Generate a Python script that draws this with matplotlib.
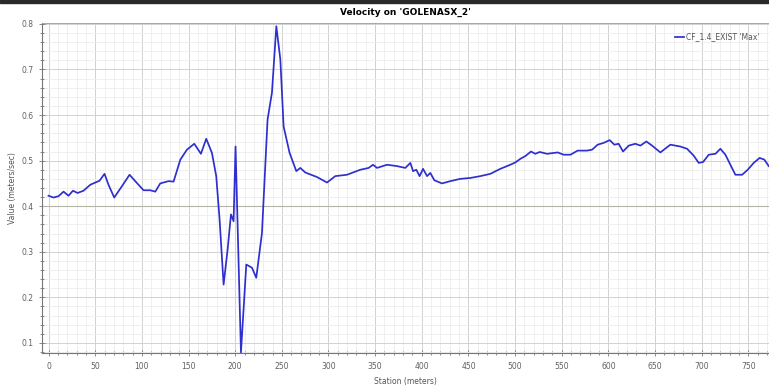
import matplotlib.pyplot as plt
from matplotlib.ticker import MultipleLocator
from matplotlib.patches import Rectangle

# profil de vitesse le long du tronçon
station = [0, 5.4, 10.7, 16.1, 21.4, 26.2, 31.1, 37.5, 44.7, 54.7,
           60.0, 64.3, 70.4, 78.7, 86.8, 94.7, 101.8, 109, 114.4, 119.7,
           128.6, 134, 141.2, 148.3, 156.2, 163.3, 169, 175.1, 179.7, 183.3,
           187.6, 191.9, 195.5, 198.3, 200.4, 206.2, 211.9, 218, 222.6, 228.7,
           234.7, 239.4, 244.1, 248.4, 251.9, 258.3, 265.5, 269.8, 275.1, 287.7,
           298.4, 307.3, 319.8, 334.1, 343, 347.7, 352, 362.7, 373.4, 382.3,
           387.7, 390.6, 394.1, 397.6, 401.3, 405.6, 409.1, 413.4, 421.6, 430.5,
           441.2, 451.9, 462.7, 473.4, 484.1, 494.8, 500.2, 505.6, 510.9, 517,
           521.6, 526.3, 534.2, 545.6, 552, 559.2, 567, 577, 582.4, 588.4,
           594.9, 601.3, 606.3, 610.9, 615.6, 621.7, 628.8, 634.2, 640.6, 646.7,
           655.6, 666.3, 677, 684.2, 691.3, 696.7, 701.4, 707.4, 714.6, 719.9,
           725.3, 730.6, 736, 743.2, 749.2, 755.6, 762, 767.1, 771.7]
vitesse = [0.423, 0.419, 0.422, 0.432, 0.423, 0.434, 0.429, 0.434, 0.447, 0.456,
           0.471, 0.447, 0.419, 0.444, 0.469, 0.451, 0.435, 0.435, 0.432, 0.450,
           0.455, 0.454, 0.502, 0.524, 0.537, 0.515, 0.548, 0.517, 0.466, 0.371,
           0.228, 0.305, 0.382, 0.367, 0.531, 0.079, 0.272, 0.265, 0.243, 0.341,
           0.590, 0.649, 0.795, 0.722, 0.575, 0.517, 0.477, 0.484, 0.474, 0.464,
           0.452, 0.466, 0.469, 0.480, 0.484, 0.491, 0.484, 0.491, 0.488, 0.484,
           0.495, 0.477, 0.480, 0.466, 0.482, 0.466, 0.473, 0.457, 0.450, 0.455,
           0.460, 0.462, 0.466, 0.471, 0.482, 0.491, 0.496, 0.504, 0.510, 0.520,
           0.515, 0.519, 0.515, 0.518, 0.513, 0.513, 0.522, 0.522, 0.524, 0.535,
           0.539, 0.545, 0.535, 0.537, 0.520, 0.533, 0.537, 0.533, 0.542, 0.533,
           0.518, 0.535, 0.531, 0.526, 0.511, 0.495, 0.497, 0.513, 0.515, 0.526,
           0.513, 0.491, 0.469, 0.469, 0.480, 0.495, 0.506, 0.502, 0.488]

niveau_ref = 0.4

fig = plt.figure(figsize=(7.69, 3.90), dpi=100)
ax = fig.add_axes([0.0546, 0.095, 0.9454, 0.846])

# bandeau sombre en haut de la fenetre
fig.patches.append(Rectangle((0, 0.992), 1, 0.008, transform=fig.transFigure,
                             color='#2a2a2a', zorder=10))

ax.plot(station, vitesse, color='#2f2fcf', lw=1.25, label="CF_1.4_EXIST 'Max'",
        solid_joinstyle='round', zorder=3)
ax.axhline(niveau_ref, color='#b4b4a8', lw=0.8, zorder=2)

ax.set_xlim(-7, 772)
ax.set_ylim(0.078, 0.802)
ax.xaxis.set_major_locator(MultipleLocator(50))
ax.xaxis.set_minor_locator(MultipleLocator(10))
ax.yaxis.set_major_locator(MultipleLocator(0.1))
ax.yaxis.set_minor_locator(MultipleLocator(0.02))
ax.yaxis.set_major_formatter(plt.FuncFormatter(lambda v, p: '%.1f' % v))

ax.grid(which='major', color='#d2d2d2', lw=0.7)
ax.grid(which='minor', color='#ededed', lw=0.6)
ax.set_axisbelow(True)

ax.spines['right'].set_visible(False)
for s in ['left', 'bottom']:
    ax.spines[s].set_color('#777777')
    ax.spines[s].set_linewidth(0.8)
ax.spines['top'].set_color('#999999')
ax.spines['top'].set_linewidth(0.6)

ax.tick_params(which='both', direction='inout', colors='#777777', labelcolor='#606060',
               labelsize=5.5, width=0.6)
ax.tick_params(which='major', length=5)
ax.tick_params(which='minor', length=3)
ax.tick_params(axis='x', pad=4)

ax.set_title("Velocity on 'GOLENASX_2'", fontsize=6.5, fontweight='bold', pad=6)
ax.set_xlabel('Station (meters)', fontsize=5.5, color='#555555', labelpad=4)
ax.set_ylabel('Value (meters/sec)', fontsize=5.5, color='#555555', labelpad=3)

leg = ax.legend(loc='upper right', frameon=False, fontsize=5.5, handlelength=1.2,
                handletextpad=0.3, borderaxespad=0.8)
for t in leg.get_texts():
    t.set_color('#555555')

fig.savefig('out.png', dpi=100)
